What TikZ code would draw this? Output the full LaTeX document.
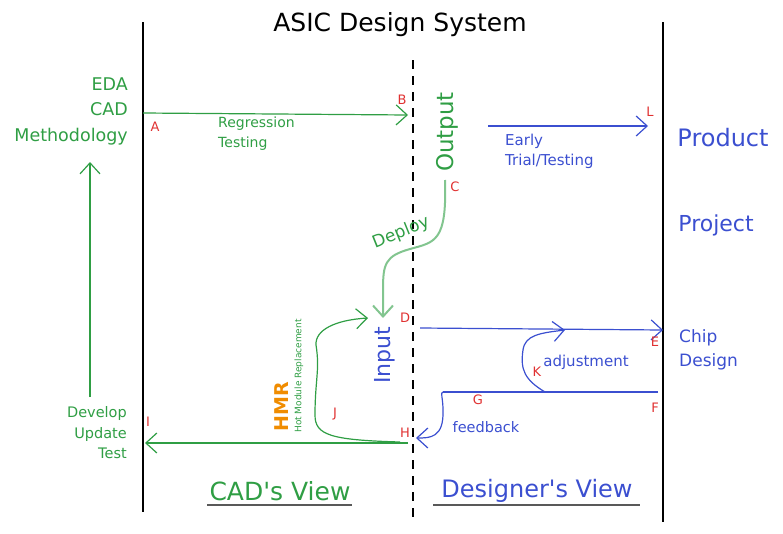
\documentclass[tikz,border=0pt]{standalone}
\usepackage{fontspec}
\setmainfont{DejaVu Sans}
\newfontfamily\plainfam{DejaVu Sans}
\usetikzlibrary{arrows.meta}
\definecolor{cgreen}{HTML}{2F9E44}
\definecolor{cblue}{HTML}{3B4FD0}
\definecolor{cred}{HTML}{E03131}
\definecolor{corange}{HTML}{F08C00}
\newcommand{\apos}{{\plainfam\char"0027\relax}}
\begin{document}
\begin{tikzpicture}[x=1pt,y=-1pt,
  ptlabel/.style={text=cred, font=\fontsize{13}{14}\selectfont, inner sep=0pt},
  gtext/.style={text=cgreen, inner sep=0pt},
  btext/.style={text=cblue, inner sep=0pt},
  barb/.style={-{Straight Barb[length=11pt,width=20pt]}, line width=1.2pt},
  axis/.style={line width=1.3pt, black},
  ]
\useasboundingbox (0,0) rectangle (783,533);
% frame lines
\coordinate (L1t) at (143,22); \coordinate (L1b) at (143,512);
\coordinate (L2t) at (663,22); \coordinate (L2b) at (663,522);
\coordinate (Dt) at (413,60); \coordinate (Db) at (413,518);
\draw[axis] (L1t) -- (L1b);
\draw[axis] (L2t) -- (L2b);
\draw[line width=1.3pt, dash pattern=on 9pt off 7pt] (Dt) -- (Db);

% title
\node[font=\fontsize{25}{28}\selectfont] (title) at (400,25) {ASIC Design System};

% left column
\node[gtext, align=right, anchor=east, font=\fontsize{17.5}{25.5}\selectfont] (eda) at (128,111) {EDA\\CAD\\Methodology};
\node[gtext, align=right, anchor=east, font=\fontsize{14.5}{20.5}\selectfont] (dev) at (127,433) {Develop\\Update\\Test};
\coordinate (upS) at (90,397); \coordinate (upE) at (90,162);
\draw[barb, cgreen] (upS) -- (upE);

% A -> B
\node[ptlabel] (A) at (155,127) {A};
\node[ptlabel] (B) at (402,100) {B};
\coordinate (abS) at (143,113); \coordinate (abE) at (408,115);
\draw[barb, cgreen] (abS) -- (abE);
\node[gtext, align=left, anchor=north west, font=\fontsize{14}{20}\selectfont] (reg) at (218,117) {Regression\\Testing};

% Output
\node[gtext, rotate=90, font=\fontsize{23}{26}\selectfont] (out) at (447,132) {Output};
\node[ptlabel] (C) at (455,187) {C};

% Deploy curve
\coordinate (depS) at (445,180);
\coordinate (depE) at (383,318);
\draw[barb, cgreen!60, line width=2pt] (depS) .. controls (447,242) and (435,242) .. (410,249)
   .. controls (385,256) and (383,264) .. (383,290) -- (depE);
\node[gtext, rotate=22, font=\fontsize{17}{20}\selectfont] (deploy) at (401,233) {Deploy};

% Early trial
\coordinate (ltS) at (488,126); \coordinate (ltE) at (648,126);
\draw[barb, cblue] (ltS) -- (ltE);
\node[ptlabel] (Lp) at (650,112) {L};
\node[btext, align=left, anchor=north west, font=\fontsize{15}{20}\selectfont] (early) at (505,134) {Early\\Trial/Testing};

\node[btext, font=\fontsize{24}{26}\selectfont] (product) at (723,138) {Product};
\node[btext, font=\fontsize{22}{26}\selectfont] (project) at (716,225) {Project};

% D -> E
\node[ptlabel] (Dl) at (405,318) {D};
\coordinate (deS) at (420,328); \coordinate (deE) at (663,330);
\draw[barb, cblue] (deS) -- (deE);
\node[ptlabel] (E) at (655,342) {E};
\node[btext, align=left, anchor=west, font=\fontsize{17}{24}\selectfont] (chip) at (679,350) {Chip\\Design};

% Input
\node[btext, rotate=90, font=\fontsize{22}{24}\selectfont] (input) at (385,355) {Input};

% F-G line, adjustment, feedback
\coordinate (F) at (658,392);
\coordinate (G0) at (443,392);
\coordinate (adjE) at (565,330);
\coordinate (fbE) at (416,438);
\draw[cblue, line width=1.2pt] (F) -- (G0);
\draw[barb, cblue] (545,392) .. controls (525,380) and (520,370) .. (523,350)
   .. controls (525,335) and (540,333) .. (adjE);
\draw[barb, cblue] (G0) .. controls (440,392) and (443,398) .. (443,410)
   .. controls (444,438) and (430,438) .. (fbE);
\node[ptlabel] (Fl) at (655,408) {F};
\node[ptlabel] (Gl) at (478,400) {G};
\node[ptlabel] (K) at (537,372) {K};
\node[btext, font=\fontsize{15}{18}\selectfont] (adj) at (586,362) {adjustment};
\node[btext, font=\fontsize{14.5}{18}\selectfont] (fb) at (486,427) {feedback};

% H -> I
\node[ptlabel] (H) at (405,433) {H};
\node[ptlabel] (I) at (148,422) {I};
\coordinate (hiS) at (408,443); \coordinate (hiE) at (145,443);
\draw[barb, cgreen] (hiS) -- (hiE);

% HMR
\coordinate (hmS) at (400,442);
\coordinate (hmE) at (368,318);
\draw[barb, cgreen] (hmS) .. controls (330,440) and (315,435) .. (315,415)
   .. controls (315,380) and (320,370) .. (316,345)
   .. controls (315,330) and (335,320) .. (hmE);
\node[ptlabel] (J) at (335,414) {J};
\node[rotate=90, text=corange, font=\bfseries\fontsize{19}{22}\selectfont] (hmr) at (282,407) {HMR};
\node[rotate=90, text=cgreen, font=\fontsize{9}{10}\selectfont] (hot) at (299,376) {Hot Module Replacement};

% bottom views
\node[gtext, font=\fontsize{25}{28}\selectfont] (cadv) at (280,491) {CAD\apos s View};
\node[btext, font=\fontsize{24}{28}\selectfont] (desv) at (537,491) {Designer\apos s View};
\coordinate (u1a) at (207,505); \coordinate (u1b) at (352,505);
\coordinate (u2a) at (433,505); \coordinate (u2b) at (640,505);
\draw[line width=1.6pt, black!65] (u1a) -- (u1b);
\draw[line width=1.6pt, black!65] (u2a) -- (u2b);
\end{tikzpicture}
\end{document}
